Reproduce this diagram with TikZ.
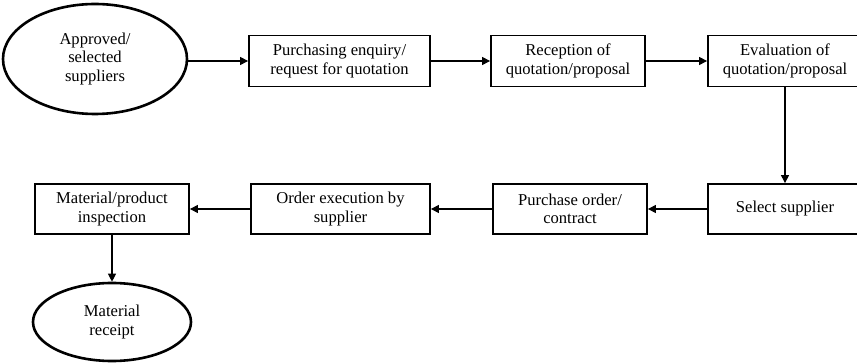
\documentclass[tikz,border=0pt]{standalone}
\usepackage{fontspec}
\setmainfont{Liberation Serif}
\usetikzlibrary{arrows.meta, shapes.geometric}
\begin{document}
\begin{tikzpicture}[x=1pt, y=-1pt,
  every node/.style={font=\fontsize{16.6}{18.5}\selectfont, align=center, inner sep=0pt},
  stepbox/.style={draw, line width=1.8pt, rectangle},
  endpoint/.style={draw, line width=2.6pt, ellipse},
  flow/.style={draw, line width=1.1pt, -{Triangle[length=8pt, width=8pt]}}]
  \useasboundingbox (0,0) rectangle (857,363);
  \clip (0,0) rectangle (857,363);

  % top row
  \node[endpoint, minimum width=184pt, minimum height=110pt] (e1) at (95,59) {Approved/\\selected\\suppliers};
  \node[stepbox, minimum width=181pt, minimum height=51pt] (b1) at (339.5,61) {Purchasing enquiry/\\request for quotation};
  \node[stepbox, minimum width=154pt, minimum height=51pt] (b2) at (568,61) {Reception of\\quotation/proposal};
  \node[stepbox, minimum width=154pt, minimum height=51pt] (b3) at (785,61) {Evaluation of\\quotation/proposal};

  % bottom row
  \node[stepbox, minimum width=154pt, minimum height=50pt] (s) at (785,209) {Select supplier};
  \node[stepbox, minimum width=154pt, minimum height=50pt] (po) at (570,209) {Purchase order/\\contract};
  \node[stepbox, minimum width=179pt, minimum height=50pt] (oe) at (340.5,209) {Order execution by\\supplier};
  \node[stepbox, minimum width=154pt, minimum height=50pt] (mi) at (112,209) {Material/product\\inspection};
  \node[endpoint, minimum width=158pt, minimum height=78pt] (e2) at (112,322) {Material\\receipt};

  % connectors
  \draw[flow] (b1.west -| e1.east) -- (b1.west);
  \draw[flow] (b1.east) -- (b2.west);
  \draw[flow] (b2.east) -- (b3.west);
  \draw[flow] (b3.south) -- (s.north);
  \draw[flow] (s.west) -- (po.east);
  \draw[flow] (po.west) -- (oe.east);
  \draw[flow] (oe.west) -- (mi.east);
  \draw[flow] (mi.south) -- (e2.north);
\end{tikzpicture}
\end{document}
